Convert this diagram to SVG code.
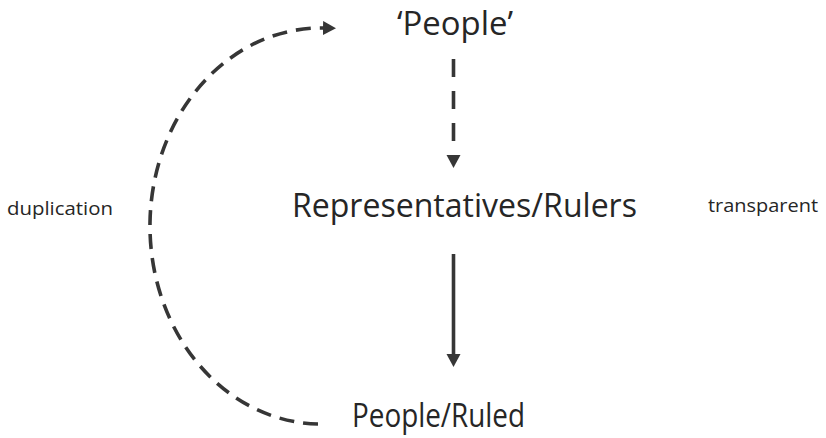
<svg xmlns="http://www.w3.org/2000/svg" width="826" height="438" viewBox="0 0 826 438">
<style>
  text { font-family: "Open Sans", "Noto Sans", sans-serif; fill: #262626; }
  .big { font-size: 33px; }
  .small { font-size: 19px; }
  .conn { fill: none; stroke: #363636; stroke-width: 3.6; }
  .dash { stroke-dasharray: 15 9; }
  .vdash { stroke-dasharray: 18 14; }
</style>
<defs>
  <marker id="ah" markerUnits="userSpaceOnUse" markerWidth="16" markerHeight="16" refX="1" refY="7" orient="auto">
    <path d="M0,0 L13,7 L0,14 Z" fill="#363636"/>
  </marker>
</defs>
<rect width="826" height="438" fill="#ffffff"/>
<g id="connectors">
  <path class="conn dash" d="M 318 424 A 171 198 0 0 1 324 28" marker-end="url(#ah)"/>
  <path class="conn vdash" d="M 453.5 59 L 453.5 156" marker-end="url(#ah)"/>
  <path class="conn" d="M 453.5 254 L 453.5 355" marker-end="url(#ah)"/>
</g>
<g id="people-quoted">
  <text class="big" x="397" y="35" textLength="116" lengthAdjust="spacingAndGlyphs">‘People’</text>
</g>
<g id="representatives">
  <text class="big" x="292" y="217" textLength="345" lengthAdjust="spacingAndGlyphs">Representatives/Rulers</text>
</g>
<g id="people-ruled">
  <text class="big" x="352" y="427" textLength="173" lengthAdjust="spacingAndGlyphs">People/Ruled</text>
</g>
<g id="duplication">
  <text class="small" x="7" y="215" textLength="106" lengthAdjust="spacingAndGlyphs">duplication</text>
</g>
<g id="transparent">
  <text class="small" x="708" y="212" textLength="110" lengthAdjust="spacingAndGlyphs">transparent</text>
</g>
</svg>
